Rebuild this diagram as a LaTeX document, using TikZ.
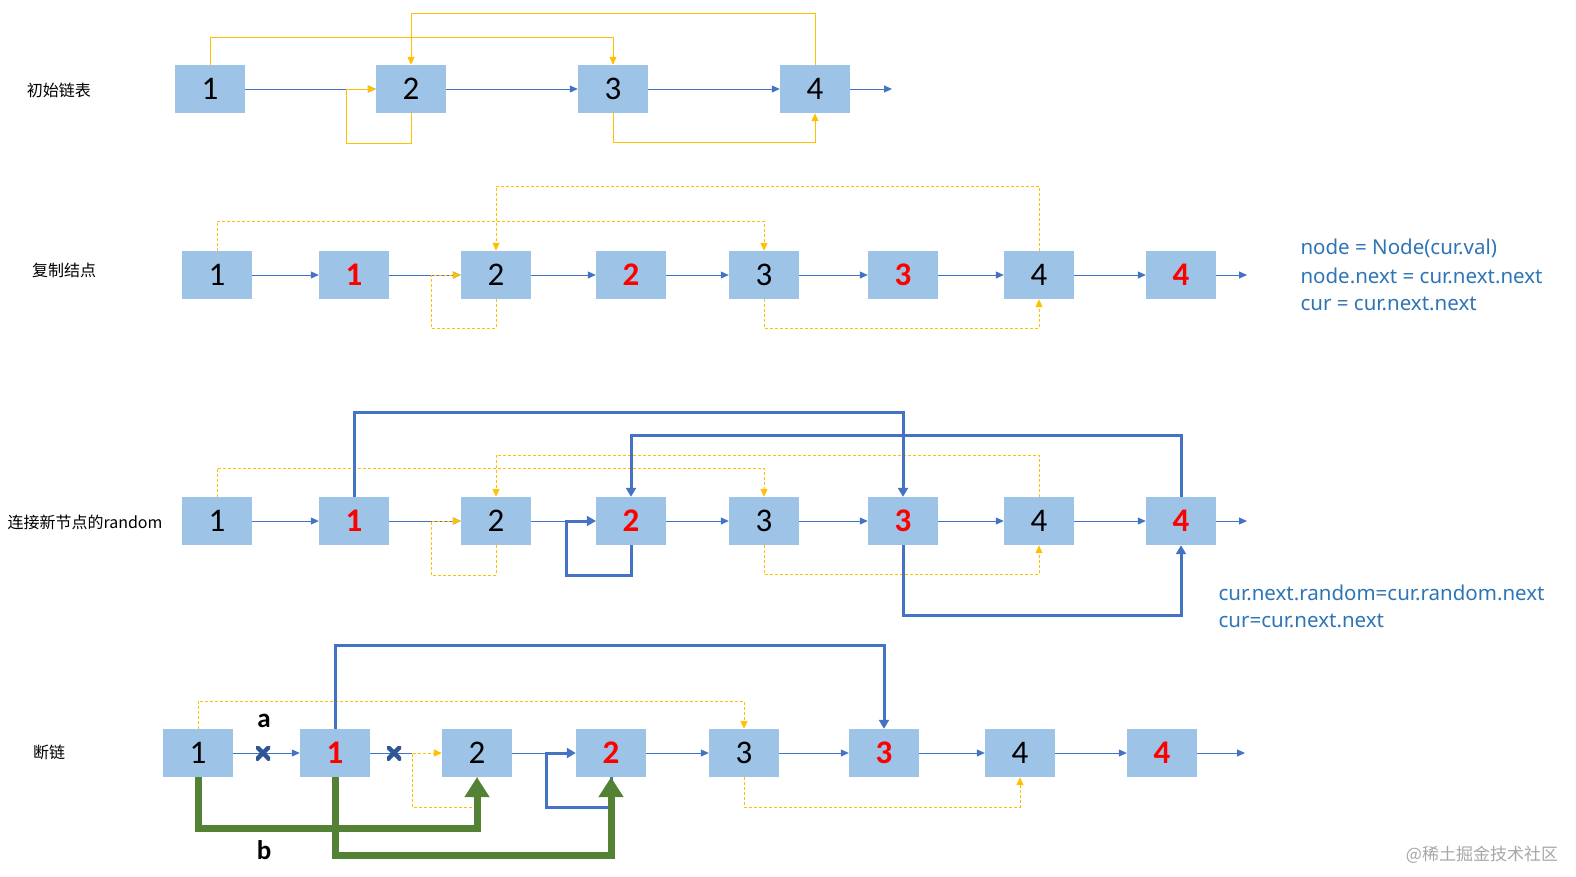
\documentclass[tikz,border=0pt]{standalone}
\usepackage{fontspec}
\setmainfont{Carlito}
\newfontfamily\cjk{Noto Sans CJK SC}
\newfontfamily\nsans{Noto Sans}
\usetikzlibrary{arrows.meta}
\definecolor{bx}{RGB}{157,195,230}
\definecolor{ln}{RGB}{68,114,196}
\definecolor{yl}{RGB}{255,192,0}
\definecolor{gr}{RGB}{84,130,53}
\definecolor{tx}{RGB}{46,117,182}
\definecolor{xm}{RGB}{47,85,151}
\begin{document}
\begin{tikzpicture}[x=1pt,y=-1pt,
 bx/.style={fill=bx,minimum width=70pt,minimum height=48pt,inner sep=0pt,font=\fontsize{33}{33}\selectfont},
 rb/.style={bx,text=red,font=\fontsize{33}{33}\selectfont\bfseries},
 nx/.style={ln,line width=1pt,-{Triangle[length=8pt,width=7pt]}},
 yw/.style={yl,line width=1pt,-{Triangle[length=8pt,width=7pt]}},
 yd/.style={yw,dashed,dash pattern=on 3pt off 2pt},
 tb/.style={ln,line width=3pt,-{Triangle[length=9pt,width=10pt]}},
 gb/.style={gr,line width=7pt,-{Triangle[length=20pt,width=24pt]}},
 lab/.style={font=\cjk\fontsize{16}{16}\selectfont},
 cd/.style={text=tx,anchor=west,font=\nsans\fontsize{20.5}{20.5}\selectfont},
 xk/.style={minimum size=14pt,inner sep=0pt,path picture={
   \draw[xm,line width=4.5pt] (path picture bounding box.north west) -- (path picture bounding box.south east)
     (path picture bounding box.north east) -- (path picture bounding box.south west);}}]
\useasboundingbox (0,0) rectangle (1576,876);
% Row 1
\node[bx] (a1) at (210,89) {1};
\node[bx] (a2) at (411,89) {2};
\node[bx] (a3) at (613,89) {3};
\node[bx] (a4) at (815,89) {4};
\coordinate (ae) at (892,89);
\node[lab] (l1) at (59,90) {初始链表};
\draw[nx] (a1.east) -- (a2.west);
\draw[nx] (a2.east) -- (a3.west);
\draw[nx] (a3.east) -- (a4.west);
\draw[nx] (a4.east) -- (ae);
\draw[yw] (a1.north) |- (613,37) -- (a3.north);
\draw[yw] (a4.north) |- (411,13) -- (a2.north);
\draw[yw] (a2.south) |- (346,143) |- (a2.west);
\draw[yw] (a3.south) |- (815,142) -- (a4.south);
% Row 2
\foreach \n/\x/\s/\t in {b1/217/bx/1,b1r/354/rb/1,b2/496/bx/2,b2r/631/rb/2,b3/764/bx/3,b3r/903/rb/3,b4/1039/bx/4,b4r/1181/rb/4}
  \node[\s] (\n) at (\x,275) {\t};
\coordinate (be) at (1247,275);
\node[lab] (l2) at (64,270) {复制结点};
\draw[nx] (b1) -- (b1r); \draw[nx] (b1r) -- (b2); \draw[nx] (b2) -- (b2r);
\draw[nx] (b2r) -- (b3); \draw[nx] (b3) -- (b3r); \draw[nx] (b3r) -- (b4);
\draw[nx] (b4) -- (b4r); \draw[nx] (b4r) -- (be);
\draw[yd] (b1.north) |- (764,221) -- (b3.north);
\draw[yd] (b4.north) |- (496,186) -- (b2.north);
\draw[yd] (b2.south) |- (431,328) |- (b2.west);
\draw[yd] (b3.south) |- (1039,328) -- (b4.south);
\node[cd] (t1) at (1297,248) {node = Node(cur.val)};
\node[cd] (t2) at (1297,276) {node.next = cur.next.next};
\node[cd] (t3) at (1297,304) {cur = cur.next.next};
% Row 3
\foreach \n/\x/\s/\t in {c1/217/bx/1,c1r/354/rb/1,c2/496/bx/2,c2r/631/rb/2,c3/764/bx/3,c3r/903/rb/3,c4/1039/bx/4,c4r/1181/rb/4}
  \node[\s] (\n) at (\x,521) {\t};
\coordinate (ce) at (1247,521);
\node[lab] (l3) at (85,522) {连接新节点的random};
\draw[nx] (c1) -- (c1r); \draw[nx] (c1r) -- (c2); \draw[nx] (c2) -- (c2r);
\draw[nx] (c2r) -- (c3); \draw[nx] (c3) -- (c3r); \draw[nx] (c3r) -- (c4);
\draw[nx] (c4) -- (c4r); \draw[nx] (c4r) -- (ce);
\draw[yd] (c1.north) |- (764,468) -- (c3.north);
\draw[yd] (c4.north) |- (496,455) -- (c2.north);
\draw[yd] (c2.south) |- (431,575) |- (c2.west);
\draw[yd] (c3.south) |- (1039,574) -- (c4.south);
\draw[tb] (c1r.north) |- (903,412) -- (c3r.north);
\draw[tb] (c4r.north) |- (631,435) -- (c2r.north);
\draw[tb] (c2r.south) |- (566,575) |- (c2r.west);
\draw[tb] (c3r.south) |- (1181,615) -- (c4r.south);
\node[cd] (t4) at (1215,593) {cur.next.random=cur.random.next};
\node[cd] (t5) at (1215,621) {cur=cur.next.next};
% Row 4
\foreach \n/\x/\s/\t in {d1/198/bx/1,d1r/335/rb/1,d2/477/bx/2,d2r/611/rb/2,d3/744/bx/3,d3r/884/rb/3,d4/1020/bx/4,d4r/1162/rb/4}
  \node[\s] (\n) at (\x,753) {\t};
\coordinate (de) at (1245,753);
\coordinate (dm) at (412,753);
\coordinate (dn) at (546,753);
\node[lab] (l4) at (49,752) {断链};
\draw[yd] (d1.north) |- (744,701) -- (d3.north);
\draw[yd] (d2.south) |- (412,807) |- (d2.west);
\draw[yd] (d3.south) |- (1020,807) -- (d4.south);
\draw[nx] (d1) -- (d1r);
\draw[ln,line width=1pt] (d1r.east) -- (dm);
\draw[ln,line width=1pt] (d2.east) -- (dn);
\draw[tb] (d2r.south) |- (546,807) |- (d2r.west);
\draw[nx] (d2r) -- (d3); \draw[nx] (d3) -- (d3r); \draw[nx] (d3r) -- (d4);
\draw[nx] (d4) -- (d4r); \draw[nx] (d4r) -- (de);
\draw[tb] (d1r.north) |- (884,645) -- (d3r.north);
\draw[gb] (d1.south) |- (477,828) -- (d2.south);
\draw[gb] (d1r.south) |- (611,855) -- (d2r.south);
\node[xk] (x1) at (263,753) {};
\node[xk] (x2) at (394,753) {};
\node[font=\fontsize{27}{27}\selectfont\bfseries] (la) at (264,721) {a};
\node[font=\fontsize{27}{27}\selectfont\bfseries] (lb) at (264,850) {b};
\node[text=gray!70,font=\cjk\fontsize{17}{17}\selectfont] (wm) at (1482,855) {@稀土掘金技术社区};
\end{tikzpicture}
\end{document}
